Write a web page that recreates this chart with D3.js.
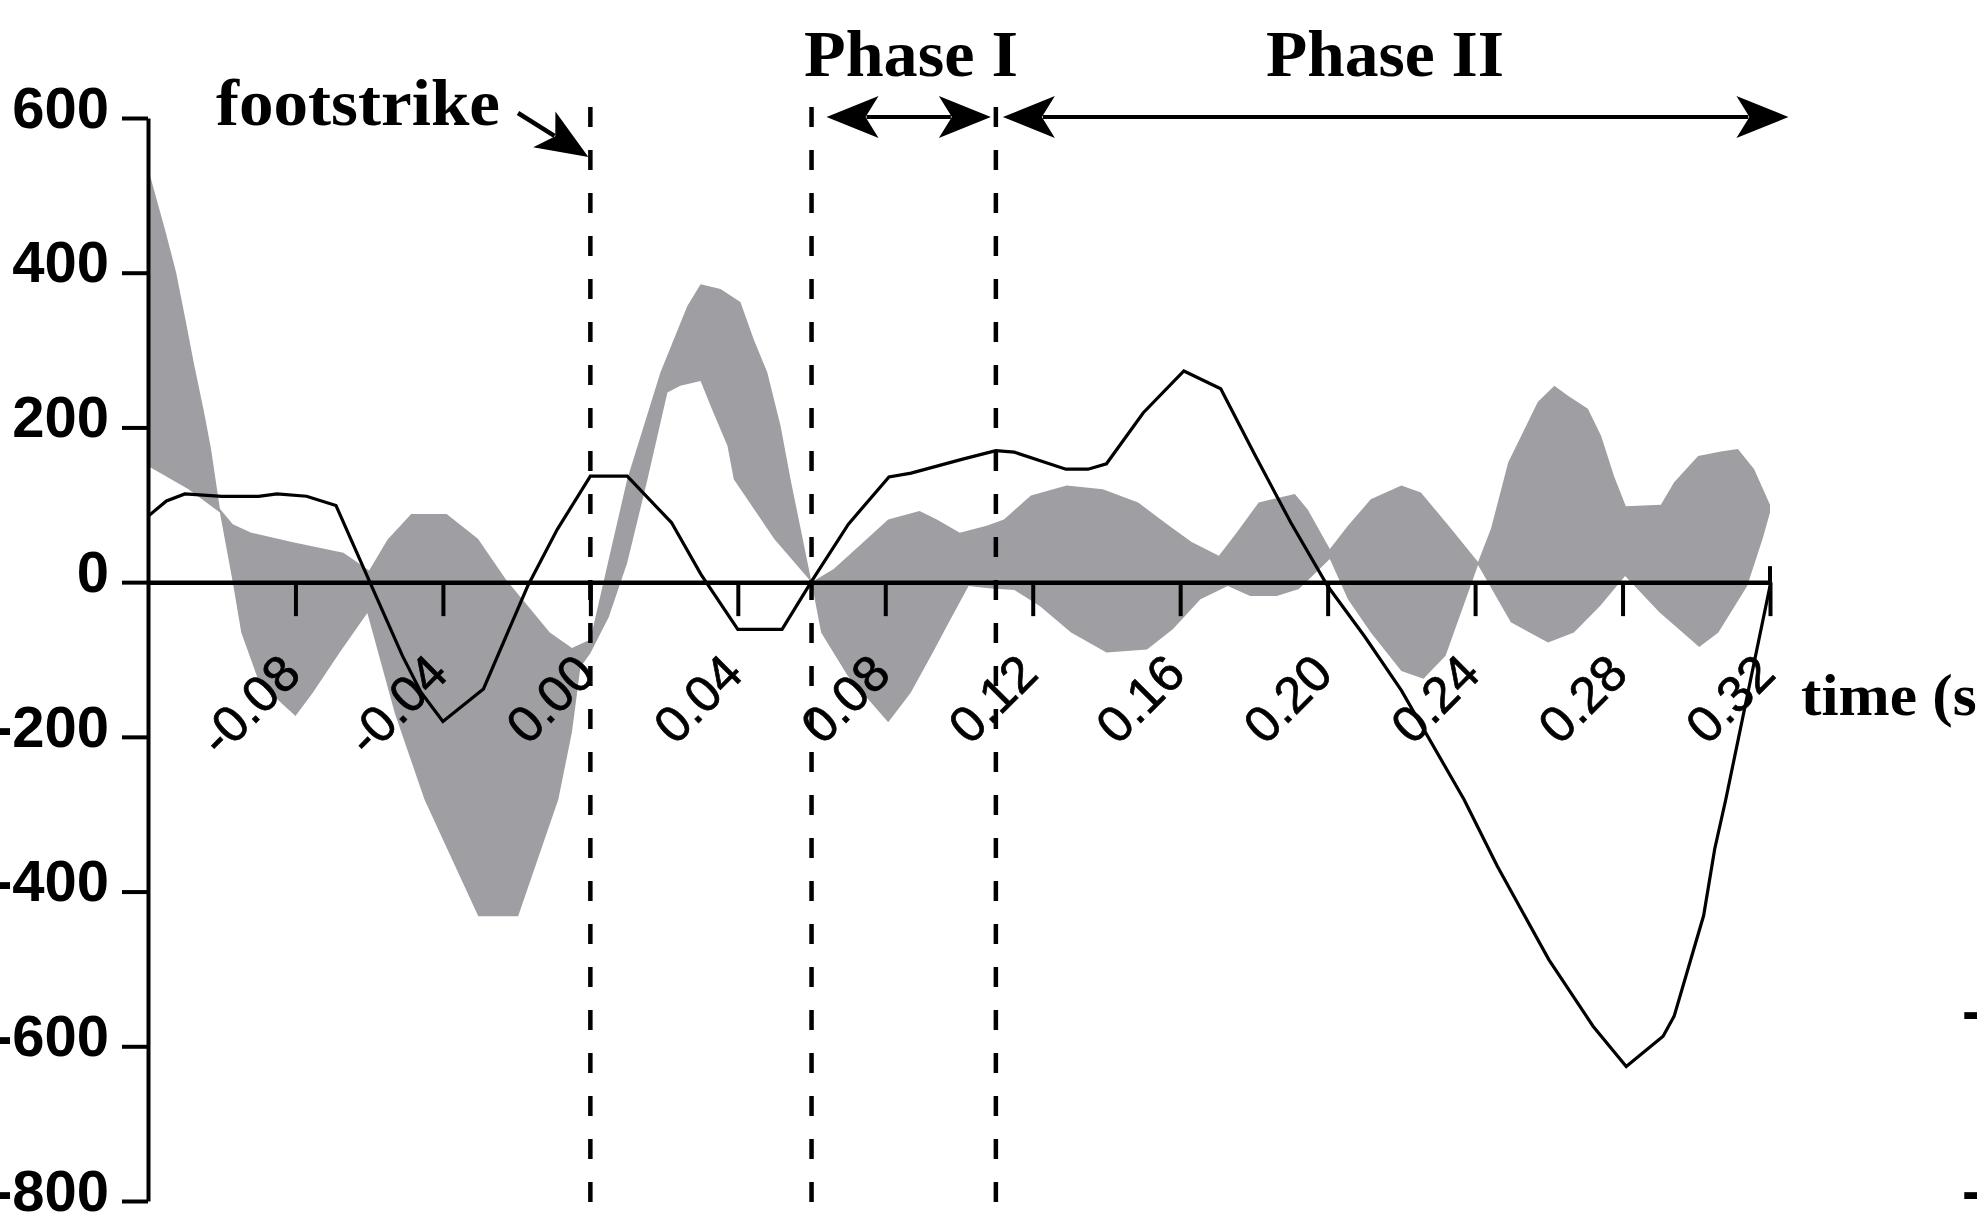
<!DOCTYPE html>
<html>
<head>
<meta charset="utf-8">
<script src="https://cdn.jsdelivr.net/npm/d3@7"></script>
<style>
  html, body { margin: 0; padding: 0; background: #ffffff; overflow: hidden; }
  svg { display: block; }
</style>
</head>
<body>
<svg id="chart" width="1977" height="1216"></svg>
<script>
// ---- axis ticks ----
const xTicks = [-0.08, -0.04, 0.00, 0.04, 0.08, 0.12, 0.16, 0.20, 0.24, 0.28, 0.32];
const yTicks = [600, 400, 200, 0, -200, -400, -600, -800];

// ---- black trace (time in s, value) ----
const lineTime = [-0.120, -0.115, -0.110, -0.100, -0.090, -0.085, -0.077, -0.069, -0.060, -0.051, -0.046, -0.040,
  -0.029, -0.017, -0.009, 0.000, 0.010, 0.022, 0.030, 0.040, 0.052, 0.060, 0.070, 0.081, 0.087, 0.101, 0.110,
  0.115, 0.129, 0.135, 0.140, 0.150, 0.161, 0.171, 0.180, 0.190, 0.200, 0.210, 0.220, 0.237, 0.246, 0.260,
  0.272, 0.281, 0.291, 0.294, 0.302, 0.305, 0.308, 0.320];
const lineValue = [85, 105, 114, 111, 111, 114, 111, 99, 2, -95, -142, -180,
  -138, -5, 68, 137, 137, 77, 10, -61, -61, 1, 75, 136, 141, 159, 170,
  168, 146, 146, 153, 219, 273, 250, 167, 77, -5, -70, -140, -281, -367, -488,
  -574, -626, -587, -561, -431, -345, -281, -5];

// ---- grey band: upper edge ----
const upperTime = [-0.1200, -0.1154, -0.1124, -0.1097, -0.1076, -0.1048, -0.1029, -0.1005, -0.0970, -0.0920,
  -0.0810, -0.0670, -0.0600, -0.0550, -0.0486, -0.0390, -0.0305, -0.0230, -0.0110, -0.0050, 0.0000, 0.0050,
  0.0100, 0.0190, 0.0263, 0.0299, 0.0353, 0.0407, 0.0443, 0.0480, 0.0516, 0.0543, 0.0600, 0.0660, 0.0720,
  0.0808, 0.0893, 0.0940, 0.1002, 0.1075, 0.1122, 0.1195, 0.1292, 0.1390, 0.1486, 0.1558, 0.1631, 0.1705,
  0.1753, 0.1813, 0.1911, 0.1946, 0.2006, 0.2055, 0.2117, 0.2200, 0.2253, 0.2335, 0.2408, 0.2443, 0.2490,
  0.2525, 0.2570, 0.2615, 0.2652, 0.2706, 0.2742, 0.2777, 0.2809, 0.2904, 0.2940, 0.3005, 0.3067, 0.3113,
  0.3157, 0.3200];
const upperValue = [535, 456, 401, 336, 284, 220, 172, 95, 75, 64,
  52, 38, 15, 55, 88, 88, 56, 4, -65, -85, -74, 30,
  133, 271, 357, 385, 379, 362, 314, 271, 202, 133, 0, 17, 43,
  81, 92, 81, 64, 73, 81, 112, 125, 120, 103, 77, 52, 34,
  64, 103, 114, 94, 43, 73, 107, 125, 116, 69, 26, 69, 155,
  189, 233, 254, 241, 224, 189, 137, 98, 100, 129, 163, 169, 172,
  146, 100];

// ---- grey band: lower edge ----
const lowerTime = [-0.1200, -0.1090, -0.1005, -0.0970, -0.0947, -0.0898, -0.0800, -0.0753, -0.0680, -0.0605,
  -0.0530, -0.0450, -0.0304, -0.0196, -0.0087, -0.0050, -0.0027, 0.0000, 0.0050, 0.0100, 0.0155, 0.0209,
  0.0244, 0.0299, 0.0326, 0.0372, 0.0389, 0.0500, 0.0600, 0.0626, 0.0698, 0.0808, 0.0869, 0.0929, 0.0977,
  0.1026, 0.1080, 0.1150, 0.1219, 0.1304, 0.1400, 0.1510, 0.1580, 0.1655, 0.1729, 0.1790, 0.1862, 0.1922,
  0.2006, 0.2055, 0.2117, 0.2200, 0.2260, 0.2320, 0.2408, 0.2497, 0.2598, 0.2668, 0.2739, 0.2807, 0.2900,
  0.3008, 0.3060, 0.3138, 0.3180, 0.3200];
const lowerValue = [150, 120, 90, 0, -65, -130, -173, -143, -91, -40,
  -170, -281, -432, -432, -281, -194, -110, -92, -45, 25, 133, 245,
  254, 260, 228, 176, 133, 55, 0, -65, -121, -181, -143, -91, -48,
  -5, -8, -10, -31, -65, -91, -87, -61, -22, -5, -18, -18, -9,
  30, -22, -65, -115, -125, -95, 22, -52, -78, -65, -31, 8, -39,
  -84, -65, -5, 56, 90];

// ---- event markers (s) ----
const footstrikeTime = 0.000;
const phase1Start = 0.060;
const phase2Start = 0.110;
const phase2End = 0.325;

// ---- layout ----
const svg = d3.select("#chart");
const x = d3.scaleLinear().domain([-0.12, 0.32]).range([148, 1770]);
const y = d3.scaleLinear().domain([-800, 600]).range([1201, 118]);

const sansFont = "'Liberation Sans', Arial, Helvetica, sans-serif";
const serifFont = "'Liberation Serif', 'Times New Roman', serif";

// grey band: upper edge left-to-right, lower edge back right-to-left
const upperPts = upperTime.map((t, i) => [t, upperValue[i]]);
const lowerPts = lowerTime.map((t, i) => [t, lowerValue[i]]).reverse();
const edge = d3.line().x(d => x(d[0])).y(d => y(d[1]));
svg.append("path")
  .attr("d", edge(upperPts.concat(lowerPts)) + "Z")
  .attr("fill", "#9e9ea3")
  .attr("stroke", "none");

// black trace
svg.append("path")
  .datum(lineTime.map((t, i) => [t, lineValue[i]]))
  .attr("d", edge)
  .attr("fill", "none")
  .attr("stroke", "#000")
  .attr("stroke-width", 3.2)
  .attr("stroke-linejoin", "miter");

// dashed event lines
svg.append("g").selectAll("line")
  .data([footstrikeTime, phase1Start, phase2Start])
  .join("line")
  .attr("x1", d => x(d)).attr("x2", d => x(d))
  .attr("y1", 107).attr("y2", 1216)
  .attr("stroke", "#000")
  .attr("stroke-width", 4.5)
  .attr("stroke-dasharray", "20 23");

// y axis
const yAxis = svg.append("g")
  .attr("transform", `translate(${x(-0.12)},0)`)
  .call(d3.axisLeft(y).tickValues(yTicks).tickSize(26).tickSizeOuter(0).tickPadding(13)
    .tickFormat(d => String(d)));
yAxis.select(".domain").attr("stroke", "#000").attr("stroke-width", 4);
yAxis.selectAll(".tick line").attr("stroke", "#000").attr("stroke-width", 4);
yAxis.selectAll(".tick text")
  .attr("fill", "#000")
  .attr("dy", "0.16em")
  .style("font-family", sansFont)
  .style("font-weight", "bold")
  .style("font-size", "58px");

// x axis on the zero line
const xAxis = svg.append("g")
  .attr("transform", `translate(0,${y(0)})`)
  .call(d3.axisBottom(x).tickValues(xTicks).tickSize(34).tickSizeOuter(0)
    .tickFormat(d => (d < 0 ? "-" : "") + Math.abs(d).toFixed(2)));
xAxis.select(".domain").attr("stroke", "#000").attr("stroke-width", 4.5);
xAxis.selectAll(".tick line").attr("stroke", "#000").attr("stroke-width", 4);
xAxis.selectAll(".tick text")
  .attr("fill", "#000")
  .attr("stroke", "#000")
  .attr("stroke-width", 0.7)
  .attr("x", 0).attr("y", 0).attr("dy", 0)
  .attr("text-anchor", "end")
  .attr("transform", "translate(7,94) rotate(-45)")
  .style("font-family", sansFont)
  .style("font-size", "51px");
// last tick crosses the axis
xAxis.append("line")
  .attr("x1", x(0.32)).attr("x2", x(0.32))
  .attr("y1", -16).attr("y2", 0)
  .attr("stroke", "#000").attr("stroke-width", 4);

// notched arrowhead pointing along angle a, tip at (tx, ty)
function arrowHead(g, tx, ty, a) {
  const L = 52, W = 21, N = 39;
  const c = Math.cos(a), s = Math.sin(a);
  const pt = (u, v) => [tx + u * c - v * s, ty + u * s + v * c];
  const p = d3.path();
  const p0 = pt(0, 0), p1 = pt(-L, -W), p2 = pt(-N, 0), p3 = pt(-L, W);
  p.moveTo(...p0); p.lineTo(...p1); p.lineTo(...p2); p.lineTo(...p3); p.closePath();
  g.append("path").attr("d", p.toString()).attr("fill", "#000");
}

function doubleArrow(x0, x1, yy) {
  const g = svg.append("g");
  g.append("line").attr("x1", x0 + 40).attr("x2", x1 - 40)
    .attr("y1", yy).attr("y2", yy)
    .attr("stroke", "#000").attr("stroke-width", 4);
  arrowHead(g, x0, yy, Math.PI);
  arrowHead(g, x1, yy, 0);
}

const arrowY = 117;
doubleArrow(x(phase1Start) + 15, x(phase2Start) - 5, arrowY);
doubleArrow(x(phase2Start) + 7, x(phase2End), arrowY);

// footstrike pointer
{
  const g = svg.append("g");
  const tip = [x(footstrikeTime) - 2, 157];
  const start = [518, 113];
  const a = Math.atan2(tip[1] - start[1], tip[0] - start[0]);
  g.append("line")
    .attr("x1", start[0]).attr("y1", start[1])
    .attr("x2", tip[0] - 40 * Math.cos(a)).attr("y2", tip[1] - 40 * Math.sin(a))
    .attr("stroke", "#000").attr("stroke-width", 4.5);
  arrowHead(g, tip[0], tip[1], a);
}

// annotations
const notes = [
  { text: "footstrike", x: 216, y: 125, size: 66, width: 284 },
  { text: "Phase I", x: 804, y: 76, size: 66, width: 214 },
  { text: "Phase II", x: 1266, y: 76, size: 66, width: 238 },
  { text: "time (s)", x: 1801, y: 715, size: 60, width: 196 }
];
svg.append("g").selectAll("text")
  .data(notes)
  .join("text")
  .attr("x", d => d.x).attr("y", d => d.y)
  .attr("textLength", d => d.width)
  .attr("lengthAdjust", "spacingAndGlyphs")
  .attr("fill", "#000")
  .style("font-family", serifFont)
  .style("font-weight", "bold")
  .style("font-size", d => d.size + "px")
  .text(d => d.text);

// marks at the right page edge
svg.append("g").selectAll("text")
  .data([1031, 1211])
  .join("text")
  .attr("x", 1962).attr("y", d => d)
  .attr("fill", "#000")
  .style("font-family", sansFont)
  .style("font-weight", "bold")
  .style("font-size", "58px")
  .text("-");
</script>
</body>
</html>
